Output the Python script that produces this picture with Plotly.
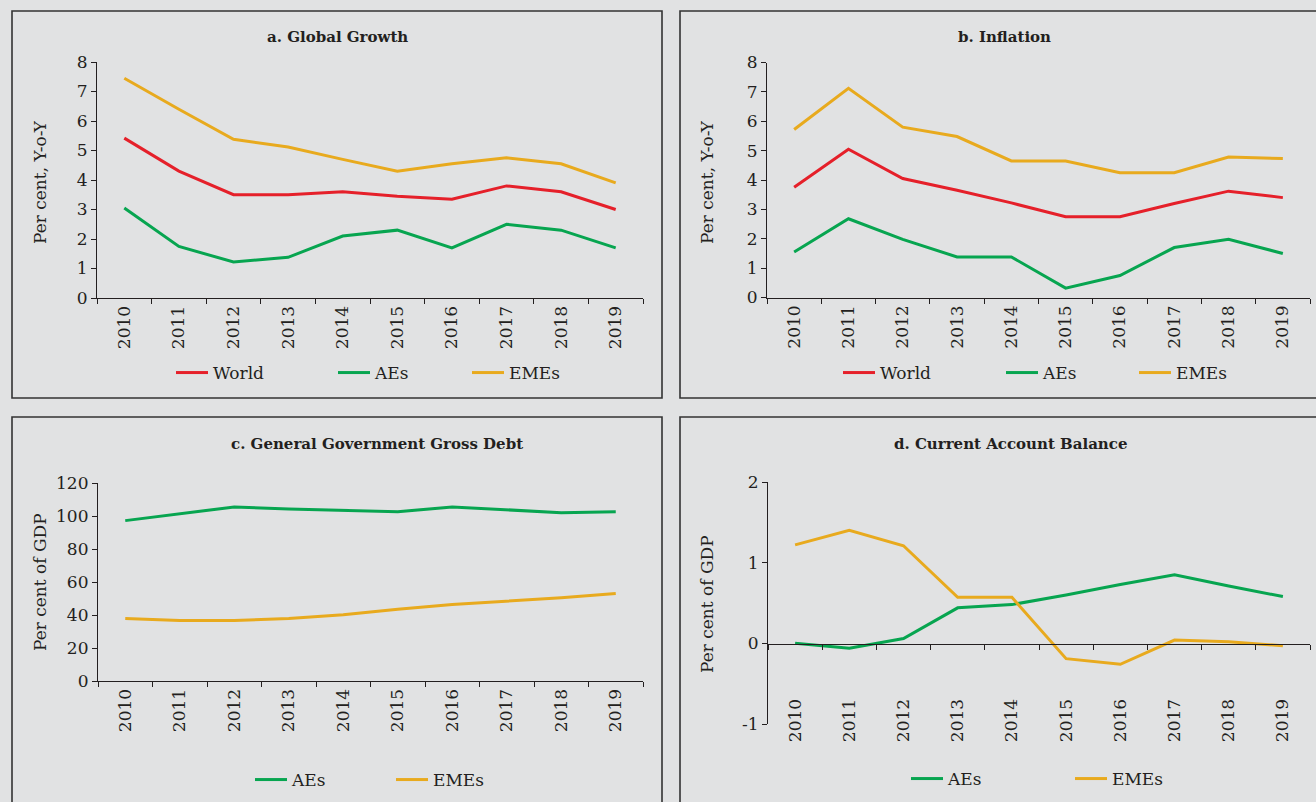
import plotly.graph_objects as go

# ---------------- data ----------------
years = ["2010", "2011", "2012", "2013", "2014", "2015", "2016", "2017", "2018", "2019"]

growth_world = [5.42, 4.30, 3.50, 3.50, 3.60, 3.45, 3.35, 3.80, 3.60, 3.00]
growth_aes = [3.05, 1.75, 1.22, 1.38, 2.10, 2.30, 1.70, 2.50, 2.30, 1.70]
growth_emes = [7.45, 6.40, 5.38, 5.12, 4.70, 4.30, 4.55, 4.75, 4.55, 3.90]

infl_world = [3.75, 5.05, 4.05, 3.65, 3.22, 2.75, 2.75, 3.20, 3.62, 3.40]
infl_aes = [1.55, 2.68, 1.98, 1.38, 1.38, 0.32, 0.75, 1.70, 1.98, 1.50]
infl_emes = [5.72, 7.12, 5.80, 5.48, 4.65, 4.65, 4.25, 4.25, 4.78, 4.73]

debt_aes = [97.2, 101.2, 105.5, 104.2, 103.4, 102.6, 105.5, 103.6, 102.0, 102.6]
debt_emes = [37.9, 36.6, 36.6, 37.9, 40.1, 43.5, 46.4, 48.4, 50.4, 53.0]

cab_aes = [0.00, -0.06, 0.06, 0.44, 0.48, 0.60, 0.73, 0.85, 0.71, 0.58]
cab_emes = [1.22, 1.40, 1.21, 0.57, 0.57, -0.19, -0.26, 0.04, 0.02, -0.03]

cab_ticks = [-1, 0, 1, 2]
cab_tick_labels = ["-1", "0", "1", "2"]

panel_titles = ["a. Global Growth", "b. Inflation",
                "c. General Government Gross Debt", "d. Current Account Balance"]
y_titles = ["Per cent, Y-o-Y", "Per cent, Y-o-Y", "Per cent of GDP", "Per cent of GDP"]

# ---------------- styling ----------------
W, H = 1316, 802
BG = "#E1E2E3"
INK = "#231F20"
RED = "#E5202A"
GREEN = "#07A550"
YELLOW = "#E8AA1E"
FONT = "DejaVu Serif"


def px(x):
    return x / W


def py(y):
    return 1 - y / H


fig = go.Figure()

series = [
    ("x", "y", "World", growth_world, RED, "legend"),
    ("x", "y", "AEs", growth_aes, GREEN, "legend2"),
    ("x", "y", "EMEs", growth_emes, YELLOW, "legend3"),
    ("x2", "y2", "World", infl_world, RED, "legend4"),
    ("x2", "y2", "AEs", infl_aes, GREEN, "legend5"),
    ("x2", "y2", "EMEs", infl_emes, YELLOW, "legend6"),
    ("x3", "y3", "AEs", debt_aes, GREEN, "legend7"),
    ("x3", "y3", "EMEs", debt_emes, YELLOW, "legend8"),
    ("x4", "y4", "AEs", cab_aes, GREEN, "legend9"),
    ("x4", "y4", "EMEs", cab_emes, YELLOW, "legend10"),
]
for xa, ya, name, vals, col, lg in series:
    fig.add_trace(go.Scatter(x=years, y=vals, name=name, mode="lines",
                             line=dict(color=col, width=3), showlegend=True,
                             xaxis=xa, yaxis=ya, legend=lg))

tickfont = dict(family=FONT, size=17, color=INK)

xcommon = dict(type="category", range=[-0.5, 9.5], tickson="boundaries", ticks="outside",
               ticklen=5, tickwidth=1.2, tickcolor=INK, tickangle=-90, showline=True,
               linecolor=INK, linewidth=1.2, showgrid=False, zeroline=False,
               tickfont=tickfont, fixedrange=True, automargin=False)
ycommon = dict(ticks="outside", ticklen=5, tickwidth=1.2, tickcolor=INK,
               showline=True, linecolor=INK, linewidth=1.2, showgrid=False,
               zeroline=False, tickfont=tickfont, fixedrange=True, automargin=False)

layout = dict(
    width=W, height=H, margin=dict(l=0, r=0, t=0, b=0, autoexpand=False), showlegend=True,
    paper_bgcolor=BG, plot_bgcolor="rgba(0,0,0,0)",
    font=dict(family=FONT, color=INK),
    xaxis=dict(domain=[px(97), px(643)], anchor="y", **xcommon),
    yaxis=dict(domain=[py(298), py(62)], anchor="x", range=[0, 8], dtick=1, **ycommon),
    xaxis2=dict(domain=[px(767), px(1310)], anchor="y2", **xcommon),
    yaxis2=dict(domain=[py(297.5), py(62.5)], anchor="x2", range=[0, 8], dtick=1, **ycommon),
    xaxis3=dict(domain=[px(98), px(643)], anchor="y3", **xcommon),
    yaxis3=dict(domain=[py(681), py(483)], anchor="x3", range=[0, 120], dtick=20, **ycommon),
    xaxis4=dict(domain=[px(768), px(1310)], anchor="free", position=py(644),
                ticklabelstandoff=47, **xcommon),
    yaxis4=dict(domain=[py(724), py(482)], anchor="x4", range=[-1, 2],
                tickmode="array", tickvals=cab_ticks, ticktext=cab_tick_labels, **ycommon),
)

# legends: one per entry, positioned under each panel
legend_pos = [  # (line start x, center y)
    (176, 373), (338, 373), (472, 373),
    (843, 373), (1006, 373), (1139, 373),
    (255, 780), (396, 780),
    (911, 779), (1075, 779),
]
names = ["legend"] + [f"legend{i}" for i in range(2, 11)]
for nm, (lx, ly) in zip(names, legend_pos):
    layout[nm] = dict(x=px(lx - 5), y=py(ly), xanchor="left", yanchor="middle",
                      orientation="h", bgcolor="rgba(0,0,0,0)", borderwidth=0,
                      itemwidth=32,
                      font=dict(family=FONT, size=17, color=INK),
                      itemclick=False, itemdoubleclick=False)

fig.update_layout(**layout)

# panel frames
frames = [(12, 11, 662, 398), (680, 11, 1330, 398), (12, 417, 662, 815), (680, 417, 1330, 815)]
for x0, y0, x1, y1 in frames:
    fig.add_shape(type="rect", xref="paper", yref="paper",
                  x0=px(x0), x1=px(x1), y0=py(y1), y1=py(y0),
                  line=dict(color="#333333", width=1.6), fillcolor="rgba(0,0,0,0)", layer="below")

# panel titles
title_pos = [(337, 37), (1004, 37), (377, 444), (1011, 444)]
for t, (tx, ty) in zip(panel_titles, title_pos):
    fig.add_annotation(xref="paper", yref="paper", x=px(tx), y=py(ty), text=f"<b>{t}</b>",
                       showarrow=False, xanchor="center", yanchor="middle",
                       font=dict(family=FONT, size=15, color=INK))

# y-axis titles
ytitle_pos = [(40, 182), (707, 182), (40, 582), (707, 604)]
for t, (tx, ty) in zip(y_titles, ytitle_pos):
    fig.add_annotation(xref="paper", yref="paper", x=px(tx), y=py(ty), text=t,
                       showarrow=False, textangle=-90, xanchor="center", yanchor="middle",
                       font=dict(family=FONT, size=17, color=INK))

fig.write_html("out.html", post_script="document.body.style.margin='0';")
